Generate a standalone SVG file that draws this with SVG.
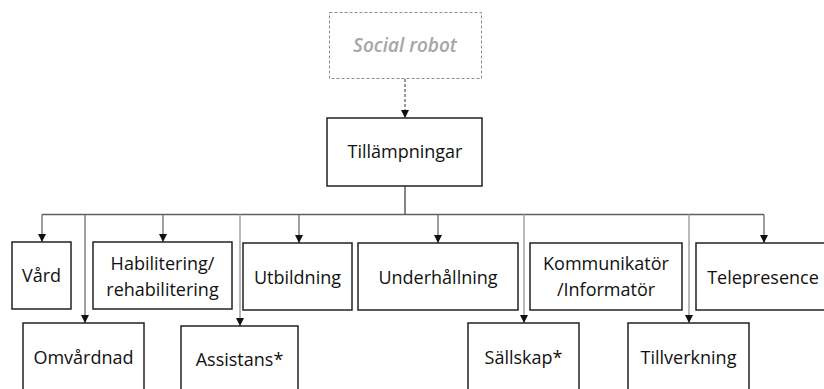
<svg xmlns="http://www.w3.org/2000/svg" width="824" height="389" viewBox="0 0 824 389">
  <style>
    .box { fill: #ffffff; stroke: #222222; stroke-width: 1.5; }
    .ghost { fill: #ffffff; stroke: #8c8c8c; stroke-width: 1; stroke-dasharray: 3 2; }
    .lbl { font-family: "Open Sans", "Liberation Sans", sans-serif; font-size: 18px; font-weight: 400; fill: #111111; text-anchor: middle; dominant-baseline: central; }
    .ghost-lbl { font-family: "Open Sans", "Liberation Sans", sans-serif; font-size: 19px; font-style: italic; font-weight: 600; fill: #a6a6a6; text-anchor: middle; dominant-baseline: central; }
    .bus { fill: none; stroke: #5f5f5f; stroke-width: 1.5; }
    .drop { fill: none; stroke: #5f5f5f; stroke-width: 1.2; marker-end: url(#tip); }
    .drop-light { fill: none; stroke: #a8a8a8; stroke-width: 1.6; marker-end: url(#tip); }
    .dashed { fill: none; stroke: #333333; stroke-width: 1; stroke-dasharray: 3 2; marker-end: url(#tip); }
  </style>
  <defs>
    <marker id="tip" markerWidth="10" markerHeight="10" refX="8" refY="4" orient="auto" markerUnits="userSpaceOnUse">
      <path d="M0,0 L8,4 L0,8 Z" fill="#111111"/>
    </marker>
  </defs>

  <rect width="824" height="389" fill="#ffffff"/>

  <!-- connectors -->
  <g id="connectors">
    <path class="dashed" d="M405,79 V118"/>
    <path class="bus" d="M405,186 V214.5 M42,214.5 H764"/>
    <path class="drop" d="M42,214.5 V242"/>
    <path class="drop" d="M85,214.5 V323"/>
    <path class="drop" d="M163,214.5 V242"/>
    <path class="drop-light" d="M240,214.5 V326"/>
    <path class="drop" d="M299,214.5 V243"/>
    <path class="drop" d="M438,214.5 V243"/>
    <path class="drop-light" d="M524,214.5 V323"/>
    <path class="drop-light" d="M689,214.5 V323"/>
    <path class="drop" d="M764,214.5 V243"/>
  </g>

  <!-- nodes -->
  <g id="social-robot">
    <rect class="ghost" x="329.5" y="12.5" width="152" height="66"/>
    <text class="ghost-lbl" x="405" y="45">Social robot</text>
  </g>
  <g id="tillampningar">
    <rect class="box" x="327" y="118" width="155" height="68"/>
    <text class="lbl" x="405" y="151">Tillämpningar</text>
  </g>
  <g id="vard">
    <rect class="box" x="12" y="242" width="59" height="67"/>
    <text class="lbl" x="41.5" y="275">Vård</text>
  </g>
  <g id="habilitering">
    <rect class="box" x="93" y="242" width="139" height="67"/>
    <text class="lbl" x="162.5" y="263">Habilitering/</text>
    <text class="lbl" x="162.5" y="289">rehabilitering</text>
  </g>
  <g id="utbildning">
    <rect class="box" x="243" y="243" width="109" height="67"/>
    <text class="lbl" x="297.5" y="277">Utbildning</text>
  </g>
  <g id="underhallning">
    <rect class="box" x="358" y="243" width="160" height="67"/>
    <text class="lbl" x="438" y="277">Underhållning</text>
  </g>
  <g id="kommunikator">
    <rect class="box" x="530" y="243" width="152" height="67"/>
    <text class="lbl" x="606" y="263">Kommunikatör</text>
    <text class="lbl" x="606" y="289">/Informatör</text>
  </g>
  <g id="telepresence">
    <rect class="box" x="696" y="243" width="140" height="67"/>
    <text class="lbl" x="763" y="277">Telepresence</text>
  </g>
  <g id="omvardnad">
    <rect class="box" x="23" y="323" width="121" height="80"/>
    <text class="lbl" x="83.5" y="357">Omvårdnad</text>
  </g>
  <g id="assistans">
    <rect class="box" x="181" y="326" width="117" height="80"/>
    <text class="lbl" x="239.5" y="359">Assistans*</text>
  </g>
  <g id="sallskap">
    <rect class="box" x="468" y="323" width="111" height="80"/>
    <text class="lbl" x="523.5" y="357">Sällskap*</text>
  </g>
  <g id="tillverkning">
    <rect class="box" x="628" y="323" width="121" height="80"/>
    <text class="lbl" x="688.5" y="357">Tillverkning</text>
  </g>
</svg>
